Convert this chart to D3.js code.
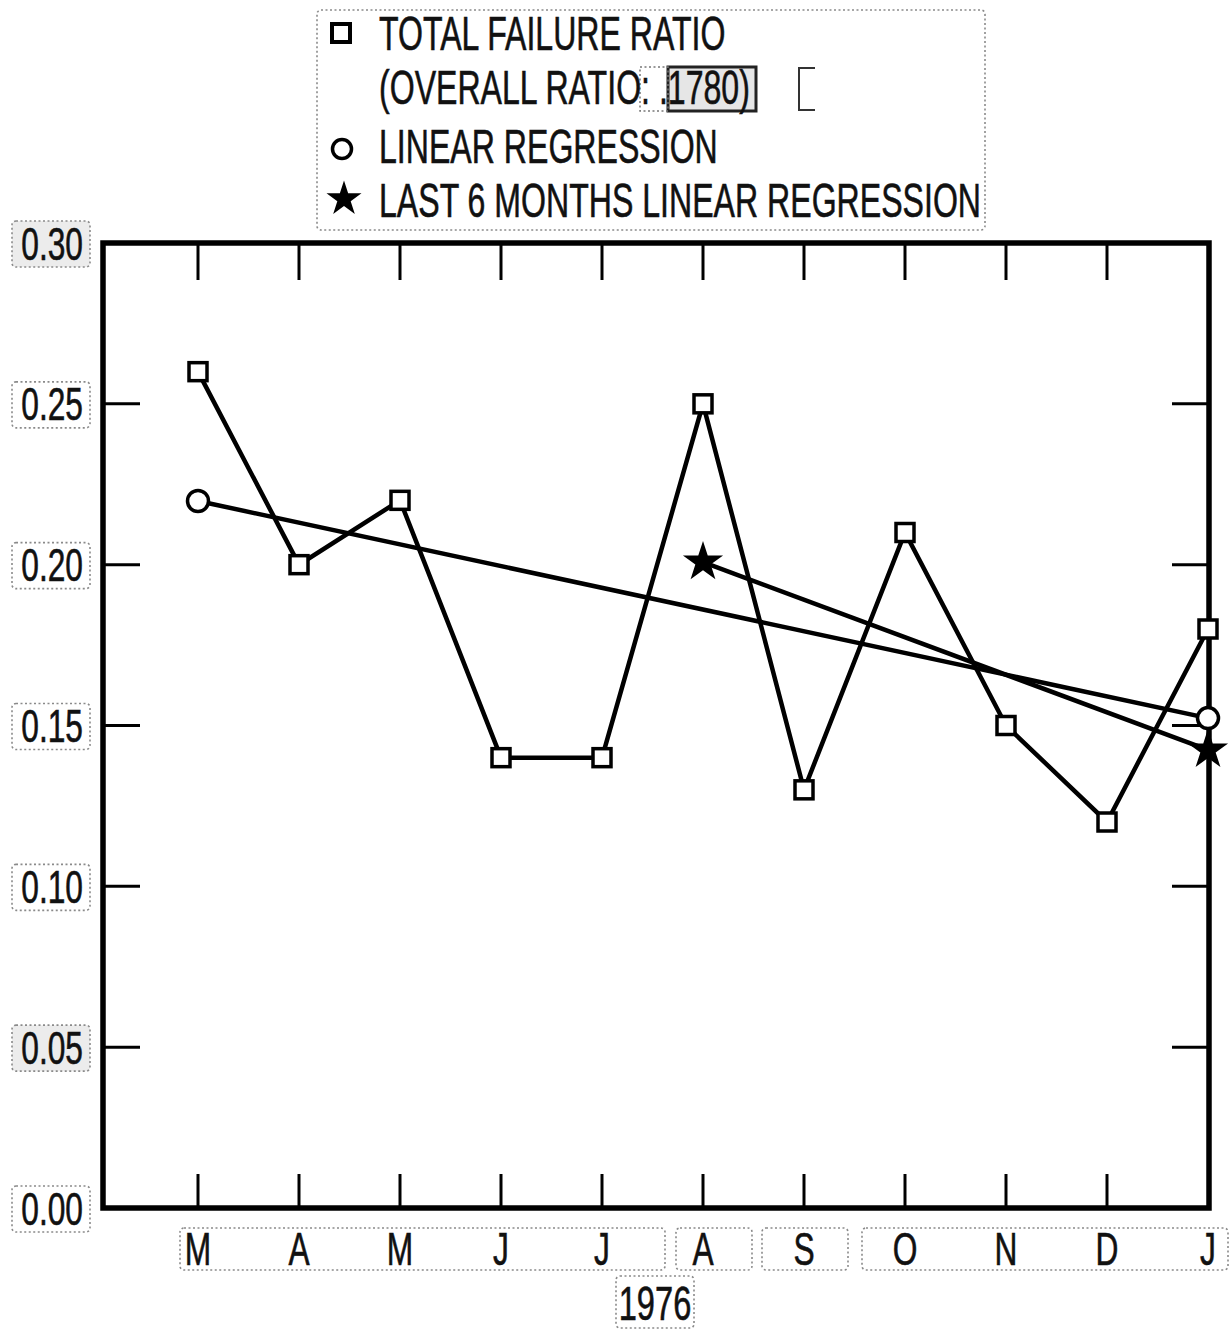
<!DOCTYPE html>
<html>
<head>
<meta charset="utf-8">
<script src="https://cdn.jsdelivr.net/npm/d3@7"></script>
<style>
  html, body { margin: 0; padding: 0; background: #fff; }
  svg { display: block; }
  text { font-family: "Liberation Sans", Arial, "DejaVu Sans", sans-serif; fill: #111; }
</style>
</head>
<body>
<svg id="chart" width="1231" height="1330"></svg>
<script>
// ---------- data ----------
const months = ["M", "A", "M", "J", "J", "A", "S", "O", "N", "D", "J"];
const failureRatio = [0.26, 0.20, 0.22, 0.14, 0.14, 0.25, 0.13, 0.21, 0.15, 0.12, 0.18];
const regressionIdx = [0, 10];
const regressionVal = [0.2198, 0.1523];
const lastSixIdx = [5, 10];
const lastSixVal = [0.2008, 0.1424];
const yTicks = [0.00, 0.05, 0.10, 0.15, 0.20, 0.25, 0.30];
const yearLabel = "1976";
const legendLabels = [
  "TOTAL FAILURE RATIO",
  "(OVERALL RATIO: .1780)",
  "LINEAR REGRESSION",
  "LAST 6 MONTHS LINEAR REGRESSION"
];

// ---------- layout ----------
const frame = { left: 103, right: 1209, top: 243, bottom: 1208 };
const svg = d3.select("#chart");

const x = d3.scalePoint()
  .domain(d3.range(months.length))
  .range([198, 1208]);
const y = d3.scaleLinear()
  .domain([0, 0.30])
  .range([frame.bottom, frame.top]);

// helper for condensed text
function ctext(g, str, px, py, size, sx, anchor) {
  return g.append("text")
    .attr("transform", `translate(${px},${py}) scale(${sx},1)`)
    .attr("text-anchor", anchor || "start")
    .attr("font-size", size)
    .attr("stroke", "#111").attr("stroke-width", 0.6)
    .text(str);
}

// dotted "pasted label" boxes
const boxG = svg.append("g")
  .attr("fill", "none").attr("stroke", "#8a8a8a")
  .attr("stroke-width", 1.6).attr("stroke-dasharray", "2,2.5");
function box(x0, y0, x1, y1, fill) {
  boxG.append("rect").attr("x", x0).attr("y", y0)
    .attr("width", x1 - x0).attr("height", y1 - y0).attr("rx", 4)
    .attr("fill", fill || "none");
}

// y-label boxes around tick positions
yTicks.forEach(t => {
  const cy = y(t);
  box(12, cy - 22, 90, cy + 24, (t === 0.30 || t === 0.05) ? "#ececec" : "none");
});
// x-label boxes
box(180, 1228, 665, 1270);
box(676, 1228, 752, 1270);
box(762, 1228, 848, 1270);
box(862, 1228, 1228, 1270);
box(616, 1276, 694, 1328);
// legend box
box(317, 10, 985, 230);

// ---------- frame & ticks ----------
const axG = svg.append("g").attr("stroke", "#000");
axG.append("rect")
  .attr("x", frame.left).attr("y", frame.top)
  .attr("width", frame.right - frame.left)
  .attr("height", frame.bottom - frame.top)
  .attr("fill", "none").attr("stroke-width", 5.5);

const tickLen = 37;
const innerY = yTicks.filter(t => t > 0 && t < 0.30);
innerY.forEach(t => {
  axG.append("line").attr("x1", frame.left).attr("x2", frame.left + tickLen)
    .attr("y1", y(t)).attr("y2", y(t)).attr("stroke-width", 3);
  axG.append("line").attr("x1", frame.right - tickLen).attr("x2", frame.right)
    .attr("y1", y(t)).attr("y2", y(t)).attr("stroke-width", 3);
});
d3.range(months.length - 1).forEach(i => {
  axG.append("line").attr("x1", x(i)).attr("x2", x(i))
    .attr("y1", frame.top).attr("y2", frame.top + tickLen).attr("stroke-width", 3);
  axG.append("line").attr("x1", x(i)).attr("x2", x(i))
    .attr("y1", frame.bottom - 34).attr("y2", frame.bottom).attr("stroke-width", 3);
});

// ---------- tick labels ----------
const lab = svg.append("g");
yTicks.forEach(t => {
  ctext(lab, t.toFixed(2), 83, y(t) + 16.5, 46, 0.69, "end");
});
months.forEach((m, i) => {
  ctext(lab, m, x(i), 1265, 46, 0.69, "middle");
});
ctext(lab, yearLabel, 655, 1320, 48, 0.68, "middle");

// ---------- series ----------
const lineGen = d3.line().x(d => x(d[0])).y(d => y(d[1]));
const dataG = svg.append("g");

dataG.append("path")
  .datum(failureRatio.map((v, i) => [i, v]))
  .attr("d", lineGen).attr("fill", "none")
  .attr("stroke", "#000").attr("stroke-width", 4.5).attr("stroke-linejoin", "miter");

dataG.append("path")
  .datum(regressionIdx.map((v, i) => [v, regressionVal[i]]))
  .attr("d", lineGen).attr("fill", "none")
  .attr("stroke", "#000").attr("stroke-width", 4.5);

dataG.append("path")
  .datum(lastSixIdx.map((v, i) => [v, lastSixVal[i]]))
  .attr("d", lineGen).attr("fill", "none")
  .attr("stroke", "#000").attr("stroke-width", 4.5);

// square markers
dataG.selectAll("rect.pt")
  .data(failureRatio)
  .join("rect").attr("class", "pt")
  .attr("x", (d, i) => x(i) - 9).attr("y", d => y(d) - 9)
  .attr("width", 18).attr("height", 18)
  .attr("fill", "#fff").attr("stroke", "#000").attr("stroke-width", 3.5);

// circle markers
dataG.selectAll("circle.reg")
  .data(regressionIdx.map((v, i) => [v, regressionVal[i]]))
  .join("circle").attr("class", "reg")
  .attr("cx", d => x(d[0])).attr("cy", d => y(d[1])).attr("r", 10.5)
  .attr("fill", "#fff").attr("stroke", "#000").attr("stroke-width", 3.5);

// star markers
const star = d3.symbol().type(d3.symbolStar).size(500);
dataG.selectAll("path.star")
  .data(lastSixIdx.map((v, i) => [v, lastSixVal[i]]))
  .join("path").attr("class", "star")
  .attr("d", star)
  .attr("transform", d => `translate(${x(d[0])},${y(d[1])})`)
  .attr("fill", "#000");

// ---------- legend ----------
const lg = svg.append("g");
const legendBase = [50, 104, 163, 217];
lg.append("rect").attr("x", 332).attr("y", 24).attr("width", 18).attr("height", 18)
  .attr("fill", "#fff").attr("stroke", "#000").attr("stroke-width", 4);
lg.append("circle").attr("cx", 342).attr("cy", 149).attr("r", 9.5)
  .attr("fill", "#fff").attr("stroke", "#000").attr("stroke-width", 3.5);
lg.append("path").attr("d", d3.symbol().type(d3.symbolStar).size(380)())
  .attr("transform", "translate(344,199)").attr("fill", "#000");

// highlighted ratio box
lg.append("rect").attr("x", 668).attr("y", 67).attr("width", 88).attr("height", 44)
  .attr("fill", "#e6e6e6").attr("stroke", "#222").attr("stroke-width", 3);
lg.append("rect").attr("x", 640).attr("y", 67).attr("width", 28).attr("height", 44)
  .attr("fill", "none").attr("stroke", "#777").attr("stroke-width", 1.5)
  .attr("stroke-dasharray", "2,2.5");
// stray bracket mark
lg.append("path").attr("d", "M815,68 L799,68 L799,110 L815,110")
  .attr("fill", "none").attr("stroke", "#333").attr("stroke-width", 2);

legendLabels.forEach((s, i) => {
  ctext(lg, s, 379, legendBase[i], 49, 0.655, "start");
});
</script>
</body>
</html>
